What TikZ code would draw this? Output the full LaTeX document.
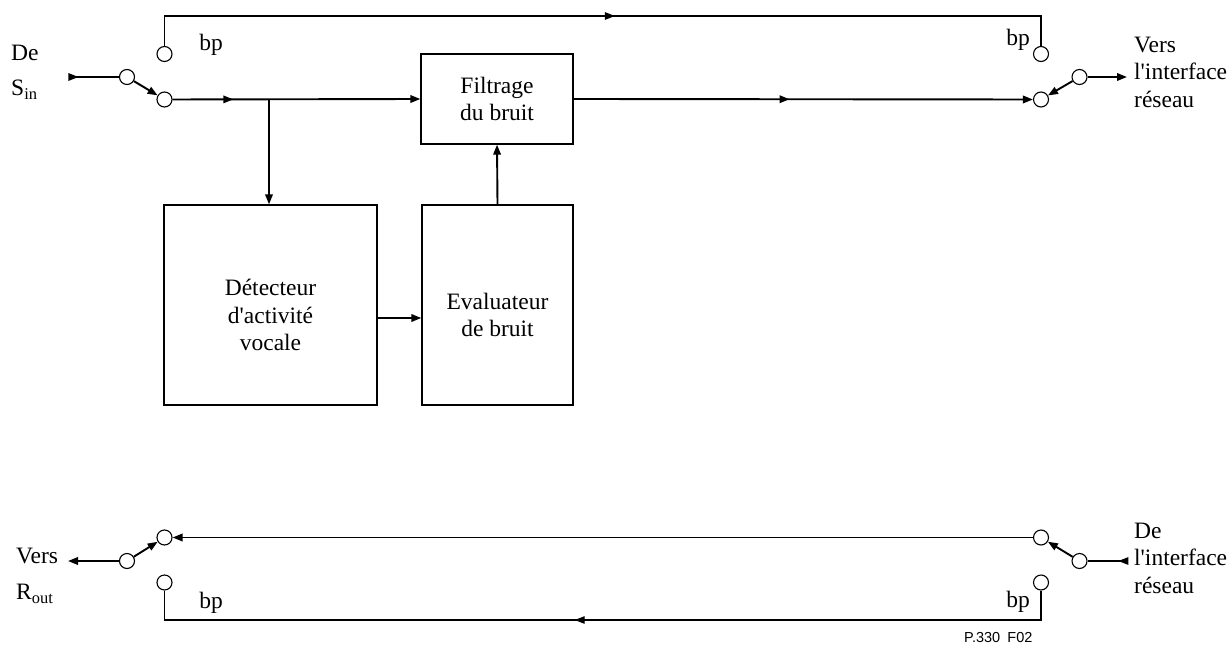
\documentclass[tikz,border=0pt]{standalone}
\usepackage{fontspec}
\setmainfont{Liberation Serif}
\newfontfamily\sansf{Liberation Sans}
\usetikzlibrary{arrows.meta,decorations.markings}
\tikzset{
  >={Triangle[length=10pt,width=7.5pt]},
  port/.style={circle, draw, fill=white, minimum size=15pt, inner sep=0pt, line width=1.1pt},
  blockbox/.style={draw, line width=1.3pt, align=center, inner sep=0pt, font=\fontsize{23.5}{27.5}\selectfont},
  mainline/.style={line width=1.9pt},
  thinline/.style={line width=1.1pt},
  midarrow/.style={postaction={decorate, decoration={markings, mark=at position #1 with {\arrow{>}}}}},
  txt/.style={font=\fontsize{23.5}{27.5}\selectfont, align=left, inner sep=0pt}
}
\begin{document}
\begin{tikzpicture}[x=1pt,y=-1pt]
\useasboundingbox (0,0) rectangle (1231,653);
% blocks
\node[blockbox, minimum width=152pt, minimum height=90pt] (filt) at (497,99) {Filtrage\\du bruit};
\node[blockbox, minimum width=213pt, minimum height=200pt,
      label={[txt, align=center, yshift=-10pt]center:D\'etecteur\\d\textquotesingle activit\'e\\vocale}] (det) at (270.5,305) {};
\node[blockbox, minimum width=151pt, minimum height=200pt,
      label={[txt, align=center, yshift=-10pt]center:Evaluateur\\de bruit}] (eva) at (497.5,305) {};
% ports top
\node[port] (sinSw) at (127,77) {};
\node[port] (sinA) at (164.5,99.5) {};
\node[port] (sinB) at (164.5,54) {};
\node[port] (soA) at (1041,99.5) {};
\node[port] (soB) at (1041,54) {};
\node[port] (soSw) at (1079.5,77) {};
% ports bottom
\node[port] (routA) at (164.5,537.5) {};
\node[port] (routB) at (164.5,582.5) {};
\node[port] (routSw) at (127,561) {};
\node[port] (rinA) at (1041,537.5) {};
\node[port] (rinB) at (1041,582.5) {};
\node[port] (rinSw) at (1079.5,561) {};
% free ends
\coordinate (sinIn) at (69,77);
\coordinate (soOut) at (1127,77);
\coordinate (routOut) at (68,561);
\coordinate (rinIn) at (1127,561);
\coordinate (tl) at (164.5,16);
\coordinate (tr) at (1041,16);
\coordinate (bl) at (164.5,620);
\coordinate (br2) at (1041,620);
\coordinate (br) at (269,99.5);
% top path
\draw[thinline, midarrow=0.19] (sinIn) -- (sinSw);
\draw[mainline,->] (sinSw) -- (sinA);
\draw[mainline,->, midarrow=0.245] (sinA) -- (filt.west);
\draw[mainline,->] (br) -- (br |- det.north);
\draw[mainline,->] ([yshift=-13pt]det.east) -- ([yshift=-13pt]eva.west);
\draw[mainline,->] (eva.north) -- (filt.south);
\draw[mainline,->, midarrow=0.47] (filt.east) -- (soA);
\draw[mainline,->] (soSw) -- (soA);
\draw[mainline,->] (soSw) -- (soOut);
\draw[thinline, midarrow=0.513] (sinB.north) -- (tl) -- (tr) -- (soB.north);
% bottom path
\draw[thinline, midarrow=0.22] (rinIn) -- (rinSw);
\draw[mainline,->] (rinSw) -- (rinA);
\draw[mainline,->] (rinA) -- (routA);
\draw[mainline,->] (routSw) -- (routA);
\draw[mainline,->] (routSw) -- (routOut);
\draw[thinline, midarrow=0.53] (rinB.south) -- (br2) -- (bl) -- (routB.south);
% labels
\node[txt, anchor=west] (lde) at (11,53) {De};
\node[txt, anchor=west] (lsin) at (11,90) {S\textsubscript{in}};
\node[txt, anchor=west] (lvers) at (1134,72) {Vers\\l\textquotesingle interface\\r\'eseau};
\node[txt, anchor=west] (lde2) at (1134,558) {De\\l\textquotesingle interface\\r\'eseau};
\node[txt, anchor=west] (lvers2) at (16,556) {Vers};
\node[txt, anchor=west] (lrout) at (16,594) {R\textsubscript{out}};
\node[txt] (bp1) at (211,45) {bp};
\node[txt] (bp2) at (1018,40) {bp};
\node[txt] (bp3) at (211,603) {bp};
\node[txt] (bp4) at (1018,602) {bp};
\node[inner sep=0pt, anchor=west, font=\sansf\fontsize{14.5}{16}\selectfont] (fig) at (964,637) {P.330\enspace F02};
\end{tikzpicture}
\end{document}
